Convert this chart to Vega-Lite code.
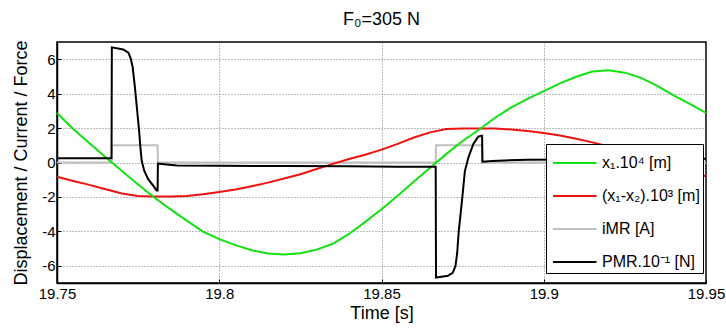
{
  "$schema": "https://vega.github.io/schema/vega-lite/v6.json",
  "width": 649,
  "height": 241,
  "autosize": {"type": "none"},
  "padding": {"left": 57, "top": 42, "right": 20, "bottom": 46},
  "background": "white",
  "title": {"text": "F₀=305 N", "fontSize": 18, "font": "Liberation Sans", "fontWeight": "normal", "color": "black", "offset": 11},
  "config": {
    "font": "Liberation Sans",
    "view": {"stroke": "black", "strokeWidth": 1.5},
    "axis": {
      "labelFontSize": 15, "titleFontSize": 18, "titleFontWeight": "normal",
      "labelColor": "black", "titleColor": "black", "domainColor": "black", "domainWidth": 1.5,
      "tickColor": "black", "tickSize": -4, "tickWidth": 1,
      "gridColor": "#555555", "gridDash": [1, 2], "gridWidth": 0.8, "gridOpacity": 1
    }
  },
  "data": {"values": [
    {"k": "g", "i": 1, "t": 19.75, "v": 2.88},
    {"k": "g", "i": 2, "t": 19.755, "v": 1.95},
    {"k": "g", "i": 3, "t": 19.76, "v": 1.12},
    {"k": "g", "i": 4, "t": 19.765, "v": 0.3},
    {"k": "g", "i": 5, "t": 19.77, "v": -0.5},
    {"k": "g", "i": 6, "t": 19.775, "v": -1.28},
    {"k": "g", "i": 7, "t": 19.78, "v": -2.03},
    {"k": "g", "i": 8, "t": 19.785, "v": -2.72},
    {"k": "g", "i": 9, "t": 19.79, "v": -3.38},
    {"k": "g", "i": 10, "t": 19.795, "v": -4.02},
    {"k": "g", "i": 11, "t": 19.8, "v": -4.45},
    {"k": "g", "i": 12, "t": 19.805, "v": -4.8},
    {"k": "g", "i": 13, "t": 19.81, "v": -5.1},
    {"k": "g", "i": 14, "t": 19.815, "v": -5.29},
    {"k": "g", "i": 15, "t": 19.82, "v": -5.35},
    {"k": "g", "i": 16, "t": 19.825, "v": -5.27},
    {"k": "g", "i": 17, "t": 19.83, "v": -5.06},
    {"k": "g", "i": 18, "t": 19.835, "v": -4.72},
    {"k": "g", "i": 19, "t": 19.84, "v": -4.15},
    {"k": "g", "i": 20, "t": 19.845, "v": -3.45},
    {"k": "g", "i": 21, "t": 19.85, "v": -2.72},
    {"k": "g", "i": 22, "t": 19.855, "v": -1.93},
    {"k": "g", "i": 23, "t": 19.86, "v": -1.1},
    {"k": "g", "i": 24, "t": 19.865, "v": -0.3},
    {"k": "g", "i": 25, "t": 19.87, "v": 0.5},
    {"k": "g", "i": 26, "t": 19.875, "v": 1.25},
    {"k": "g", "i": 27, "t": 19.88, "v": 1.9},
    {"k": "g", "i": 28, "t": 19.885, "v": 2.6},
    {"k": "g", "i": 29, "t": 19.89, "v": 3.2},
    {"k": "g", "i": 30, "t": 19.895, "v": 3.7},
    {"k": "g", "i": 31, "t": 19.9, "v": 4.15},
    {"k": "g", "i": 32, "t": 19.905, "v": 4.6},
    {"k": "g", "i": 33, "t": 19.91, "v": 4.98},
    {"k": "g", "i": 34, "t": 19.915, "v": 5.28},
    {"k": "g", "i": 35, "t": 19.92, "v": 5.36},
    {"k": "g", "i": 36, "t": 19.925, "v": 5.22},
    {"k": "g", "i": 37, "t": 19.93, "v": 4.92},
    {"k": "g", "i": 38, "t": 19.935, "v": 4.45},
    {"k": "g", "i": 39, "t": 19.94, "v": 3.9},
    {"k": "g", "i": 40, "t": 19.945, "v": 3.4},
    {"k": "g", "i": 41, "t": 19.95, "v": 2.88},

    {"k": "r", "i": 1, "t": 19.75, "v": -0.83},
    {"k": "r", "i": 2, "t": 19.755, "v": -1.08},
    {"k": "r", "i": 3, "t": 19.76, "v": -1.3},
    {"k": "r", "i": 4, "t": 19.765, "v": -1.55},
    {"k": "r", "i": 5, "t": 19.77, "v": -1.8},
    {"k": "r", "i": 6, "t": 19.775, "v": -1.95},
    {"k": "r", "i": 7, "t": 19.78, "v": -1.97},
    {"k": "r", "i": 8, "t": 19.785, "v": -1.97},
    {"k": "r", "i": 9, "t": 19.79, "v": -1.94},
    {"k": "r", "i": 10, "t": 19.795, "v": -1.85},
    {"k": "r", "i": 11, "t": 19.8, "v": -1.72},
    {"k": "r", "i": 12, "t": 19.805, "v": -1.57},
    {"k": "r", "i": 13, "t": 19.81, "v": -1.38},
    {"k": "r", "i": 14, "t": 19.815, "v": -1.17},
    {"k": "r", "i": 15, "t": 19.82, "v": -0.93},
    {"k": "r", "i": 16, "t": 19.825, "v": -0.68},
    {"k": "r", "i": 17, "t": 19.83, "v": -0.38},
    {"k": "r", "i": 18, "t": 19.835, "v": -0.08},
    {"k": "r", "i": 19, "t": 19.84, "v": 0.2},
    {"k": "r", "i": 20, "t": 19.845, "v": 0.45},
    {"k": "r", "i": 21, "t": 19.85, "v": 0.75},
    {"k": "r", "i": 22, "t": 19.855, "v": 1.08},
    {"k": "r", "i": 23, "t": 19.86, "v": 1.45},
    {"k": "r", "i": 24, "t": 19.865, "v": 1.75},
    {"k": "r", "i": 25, "t": 19.87, "v": 1.95},
    {"k": "r", "i": 26, "t": 19.875, "v": 1.98},
    {"k": "r", "i": 27, "t": 19.88, "v": 1.98},
    {"k": "r", "i": 28, "t": 19.885, "v": 1.97},
    {"k": "r", "i": 29, "t": 19.89, "v": 1.92},
    {"k": "r", "i": 30, "t": 19.895, "v": 1.83},
    {"k": "r", "i": 31, "t": 19.9, "v": 1.72},
    {"k": "r", "i": 32, "t": 19.905, "v": 1.57},
    {"k": "r", "i": 33, "t": 19.91, "v": 1.38},
    {"k": "r", "i": 34, "t": 19.915, "v": 1.17},
    {"k": "r", "i": 35, "t": 19.92, "v": 0.93},
    {"k": "r", "i": 36, "t": 19.925, "v": 0.65},
    {"k": "r", "i": 37, "t": 19.93, "v": 0.32},
    {"k": "r", "i": 38, "t": 19.935, "v": 0.0},
    {"k": "r", "i": 39, "t": 19.94, "v": -0.25},
    {"k": "r", "i": 40, "t": 19.945, "v": -0.52},
    {"k": "r", "i": 41, "t": 19.95, "v": -0.8},

    {"k": "c", "i": 1, "t": 19.75, "v": 0},
    {"k": "c", "i": 2, "t": 19.7668, "v": 0},
    {"k": "c", "i": 3, "t": 19.7669, "v": 1},
    {"k": "c", "i": 4, "t": 19.781, "v": 1},
    {"k": "c", "i": 5, "t": 19.7811, "v": 0},
    {"k": "c", "i": 6, "t": 19.8667, "v": 0},
    {"k": "c", "i": 7, "t": 19.8668, "v": 1},
    {"k": "c", "i": 8, "t": 19.881, "v": 1},
    {"k": "c", "i": 9, "t": 19.8811, "v": 0},
    {"k": "c", "i": 10, "t": 19.95, "v": 0},

    {"k": "p", "i": 1, "t": 19.75, "v": 0.25},
    {"k": "p", "i": 2, "t": 19.7668, "v": 0.25},
    {"k": "p", "i": 3, "t": 19.7669, "v": 6.69},
    {"k": "p", "i": 4, "t": 19.7704, "v": 6.57},
    {"k": "p", "i": 5, "t": 19.772, "v": 6.38},
    {"k": "p", "i": 6, "t": 19.7727, "v": 6.05},
    {"k": "p", "i": 7, "t": 19.7733, "v": 5.56},
    {"k": "p", "i": 8, "t": 19.774, "v": 4.39},
    {"k": "p", "i": 9, "t": 19.7747, "v": 3.02},
    {"k": "p", "i": 10, "t": 19.7753, "v": 1.85},
    {"k": "p", "i": 11, "t": 19.7757, "v": 0.88},
    {"k": "p", "i": 12, "t": 19.7761, "v": 0.1},
    {"k": "p", "i": 13, "t": 19.7769, "v": -0.49},
    {"k": "p", "i": 14, "t": 19.7781, "v": -0.97},
    {"k": "p", "i": 15, "t": 19.7797, "v": -1.36},
    {"k": "p", "i": 16, "t": 19.7807, "v": -1.62},
    {"k": "p", "i": 17, "t": 19.781, "v": -1.62},
    {"k": "p", "i": 18, "t": 19.7811, "v": -0.06},
    {"k": "p", "i": 19, "t": 19.7838, "v": -0.12},
    {"k": "p", "i": 20, "t": 19.787, "v": -0.18},
    {"k": "p", "i": 21, "t": 19.8, "v": -0.19},
    {"k": "p", "i": 22, "t": 19.82, "v": -0.21},
    {"k": "p", "i": 23, "t": 19.84, "v": -0.22},
    {"k": "p", "i": 24, "t": 19.855, "v": -0.24},
    {"k": "p", "i": 25, "t": 19.8667, "v": -0.25},
    {"k": "p", "i": 26, "t": 19.8668, "v": -6.68},
    {"k": "p", "i": 27, "t": 19.869, "v": -6.62},
    {"k": "p", "i": 28, "t": 19.8705, "v": -6.58},
    {"k": "p", "i": 29, "t": 19.872, "v": -6.4},
    {"k": "p", "i": 30, "t": 19.8728, "v": -6.0},
    {"k": "p", "i": 31, "t": 19.8733, "v": -5.3},
    {"k": "p", "i": 32, "t": 19.8738, "v": -4.0},
    {"k": "p", "i": 33, "t": 19.8747, "v": -2.4},
    {"k": "p", "i": 34, "t": 19.8757, "v": -0.5},
    {"k": "p", "i": 35, "t": 19.8768, "v": 0.3},
    {"k": "p", "i": 36, "t": 19.8783, "v": 1.08},
    {"k": "p", "i": 37, "t": 19.8798, "v": 1.5},
    {"k": "p", "i": 38, "t": 19.8808, "v": 1.56},
    {"k": "p", "i": 39, "t": 19.881, "v": 1.56},
    {"k": "p", "i": 40, "t": 19.8811, "v": 0.05},
    {"k": "p", "i": 41, "t": 19.884, "v": 0.08},
    {"k": "p", "i": 42, "t": 19.888, "v": 0.12},
    {"k": "p", "i": 43, "t": 19.895, "v": 0.16},
    {"k": "p", "i": 44, "t": 19.91, "v": 0.18},
    {"k": "p", "i": 45, "t": 19.93, "v": 0.2},
    {"k": "p", "i": 46, "t": 19.95, "v": 0.22}
  ]},
  "encoding": {
    "x": {
      "field": "t", "type": "quantitative",
      "scale": {"domain": [19.75, 19.95], "nice": false, "zero": false},
      "axis": {"title": "Time [s]", "values": [19.75, 19.8, 19.85, 19.9, 19.95], "format": ".4~g", "labelPadding": 7, "titlePadding": 3, "labelFlush": false}
    },
    "y": {
      "field": "v", "type": "quantitative",
      "scale": {"domain": [-7, 7], "nice": false},
      "axis": {"title": "Displacement / Current / Force", "values": [-6, -4, -2, 0, 2, 4, 6], "labelExpr": "'' + datum.value", "labelPadding": 6, "titlePadding": 11}
    },
    "color": {
      "field": "k", "type": "nominal",
      "scale": {"domain": ["g", "r", "c", "p"], "range": ["#11e011", "#ee1111", "#c0c0c0", "#000000"]},
      "legend": {
        "orient": "none", "legendX": 489, "legendY": 102, "title": null,
        "direction": "vertical",
        "fillColor": "white", "strokeColor": "black", "padding": 3,
        "symbolType": "M -0.8 0 L 2.1 0", "symbolSize": 900, "symbolStrokeWidth": 2, "symbolFillColor": "transparent",
        "labelFontSize": 16, "labelColor": "black", "labelOffset": 21, "labelLimit": 200, "rowPadding": 9,
        "labelExpr": "datum.label == 'g' ? 'x₁.10⁴ [m]' : datum.label == 'r' ? '(x₁-x₂).10³ [m]' : datum.label == 'c' ? 'iMR [A]' : 'PMR.10⁻¹ [N]'"
      }
    },
    "order": {"field": "i", "type": "quantitative"}
  },
  "layer": [
    {"transform": [{"filter": "datum.k == 'c'"}], "mark": {"type": "line", "strokeWidth": 2}},
    {"transform": [{"filter": "datum.k == 'r'"}], "mark": {"type": "line", "strokeWidth": 2}},
    {"transform": [{"filter": "datum.k == 'g'"}], "mark": {"type": "line", "strokeWidth": 2}},
    {"transform": [{"filter": "datum.k == 'p'"}], "mark": {"type": "line", "strokeWidth": 2}}
  ]
}
